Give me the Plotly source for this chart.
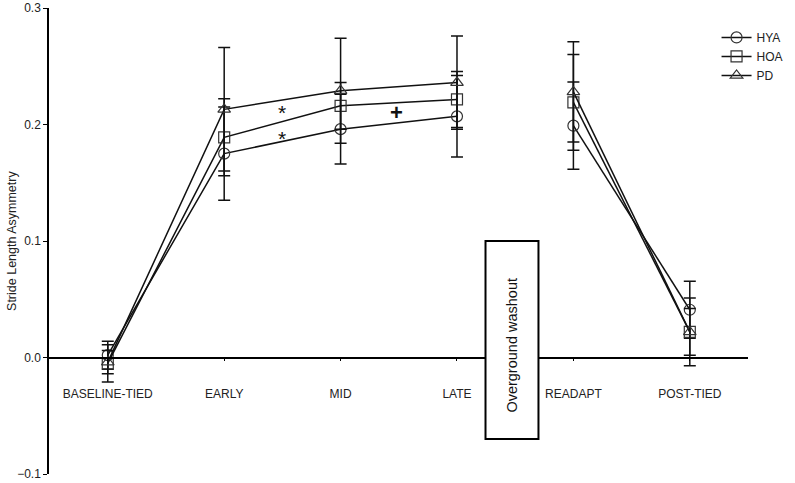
import plotly.graph_objects as go

# phases of the protocol
categories = ["BASELINE-TIED", "EARLY", "MID", "LATE", "READAPT", "POST-TIED"]

# mean stride length asymmetry and error per group
hya = [0.002, 0.175, 0.196, 0.207, 0.199, 0.041]
hya_err = [0.012, 0.040, 0.030, 0.035, 0.0375, 0.0245]
hoa = [-0.005, 0.189, 0.216, 0.2215, 0.219, 0.022]
hoa_err = [0.016, 0.033, 0.020, 0.024, 0.041, 0.029]
pd_ = [-0.004, 0.213, 0.229, 0.236, 0.228, 0.022]
pd_err = [0.010, 0.053, 0.045, 0.040, 0.043, 0.020]

y_ticks = [-0.1, 0.0, 0.1, 0.2, 0.3]

FONT = "Liberation Sans, Arial, sans-serif"

groups = [
    ("HYA", hya, hya_err, "circle-open"),
    ("HOA", hoa, hoa_err, "square-open"),
    ("PD", pd_, pd_err, "triangle-up-open"),
]

# treadmill blocks are not joined to the re-adaptation block
segments = [slice(0, 4), slice(4, 6)]

fig = go.Figure()
xs = list(range(len(categories)))

for name, vals, errs, symbol in groups:
    for k, seg in enumerate(segments):
        fig.add_trace(go.Scatter(
            x=xs[seg], y=vals[seg],
            mode="lines+markers",
            name=name,
            legendgroup=name,
            showlegend=(k == 0),
            line=dict(color="#111", width=1.5),
            marker=dict(symbol=symbol, size=11, color="#333",
                        line=dict(width=1.2)),
            error_y=dict(type="data", array=errs[seg], color="#111",
                         thickness=1.5, width=6),
        ))

# washout box between LATE and READAPT
fig.add_shape(type="rect", x0=3.245, x1=3.70, y0=-0.07, y1=0.1,
              fillcolor="white", line=dict(color="black", width=2),
              layer="above")
fig.add_annotation(x=3.472, y=0.011, text="Overground washout",
                   textangle=-90, showarrow=False,
                   font=dict(family=FONT, size=14.5, color="#111"))

# significance marks
fig.add_annotation(x=1.5, y=0.210, text="*", showarrow=False,
                   font=dict(family=FONT, size=21, color="#111"))
fig.add_annotation(x=1.5, y=0.188, text="*", showarrow=False,
                   font=dict(family=FONT, size=21, color="#111"))
fig.add_annotation(x=2.48, y=0.2106, text="<b>+</b>", showarrow=False,
                   font=dict(family=FONT, size=22, color="#111"))

# y axis title, placed by hand (axis titles get clamped inside the margin)
fig.add_annotation(xref="paper", yref="paper", x=-0.053, y=0.5,
                   text="Stride Length Asymmetry", textangle=-90,
                   showarrow=False, xanchor="center", yanchor="middle",
                   font=dict(family=FONT, size=12.5, color="#222"))

fig.update_layout(
    width=795, height=483,
    margin=dict(l=49, r=47, t=8, b=9, autoexpand=False),
    paper_bgcolor="white", plot_bgcolor="white",
    font=dict(family=FONT, size=12, color="#222"),
    showlegend=True,
    legend=dict(x=0.955, y=0.968, xanchor="left", yanchor="top",
                bgcolor="rgba(0,0,0,0)", font=dict(size=12),
                tracegroupgap=0),
    xaxis=dict(
        range=[-0.505, 5.5], anchor="free", position=0.25,
        tickvals=xs, ticktext=categories, automargin=False,
        showline=True, linecolor="black", linewidth=1.5,
        ticks="outside", ticklen=3, tickcolor="black",
        ticklabelstandoff=22,
        showgrid=False, zeroline=False,
    ),
    yaxis=dict(
        range=[-0.1, 0.3], tickvals=y_ticks, tickformat=".1f",
        automargin=False,
        showline=True, linecolor="black", linewidth=1.5,
        ticks="outside", ticklen=4, tickcolor="black",
        showgrid=False, zeroline=False,
    ),
)

# drop the browser's default page margin so the figure fills the window
fig.write_html("out.html", config={"displayModeBar": False},
               post_script="document.body.style.margin='0';")
